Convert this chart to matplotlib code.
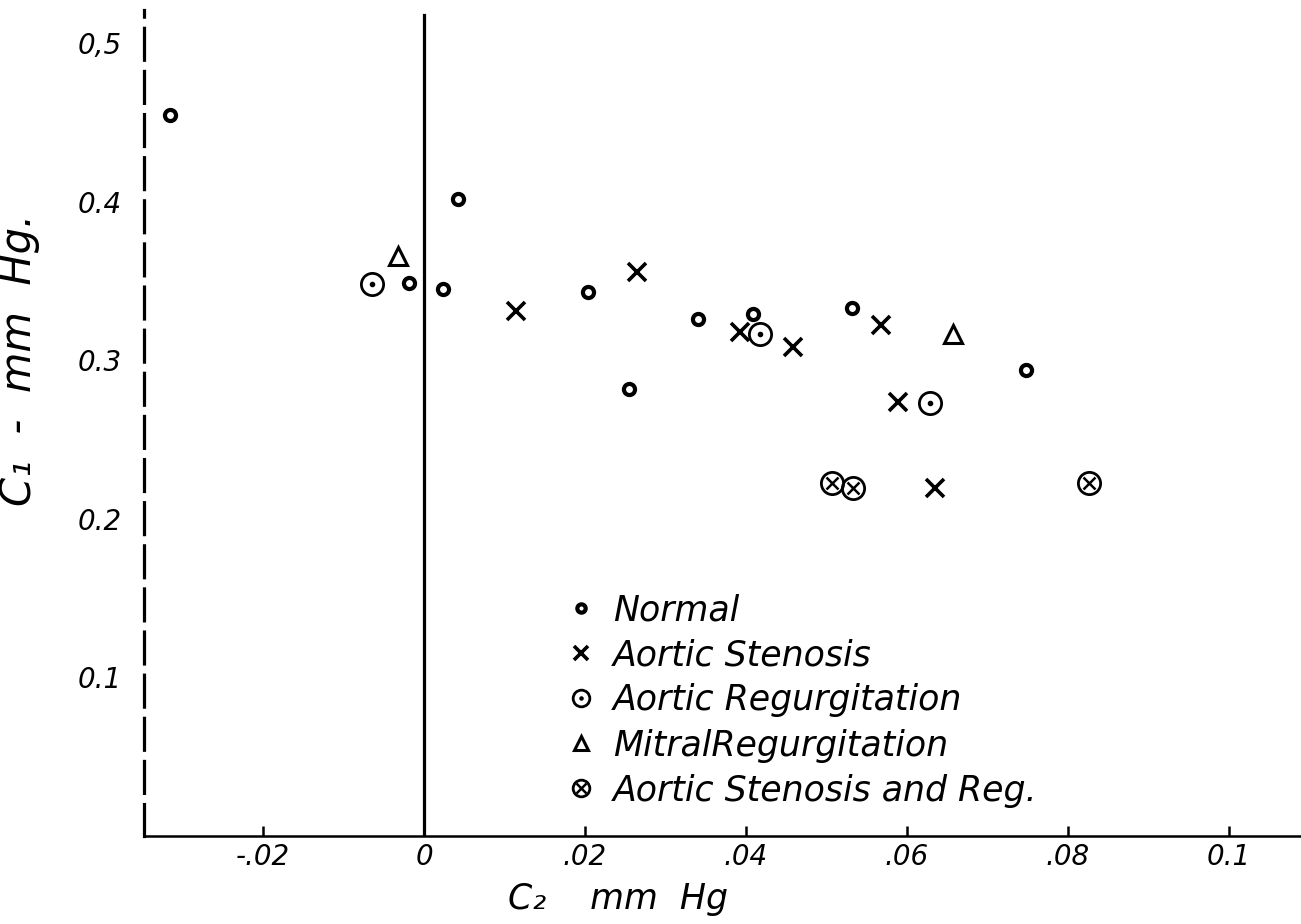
import matplotlib
matplotlib.use("Agg")
import matplotlib.pyplot as plt
from matplotlib.legend_handler import HandlerTuple
import numpy as np

# values (C2 on x, C1 on y, mm Hg)
normal_x = [-0.0316, 0.0042, -0.0019, 0.0024, 0.0204, 0.0340, 0.0409, 0.0532, 0.0255, 0.0748]
normal_y = [0.455, 0.402, 0.349, 0.345, 0.343, 0.326, 0.329, 0.333, 0.282, 0.294]

stenosis_x = [0.0114, 0.0265, 0.0393, 0.0458, 0.0568, 0.0589, 0.0635]
stenosis_y = [0.331, 0.356, 0.318, 0.3085, 0.322, 0.274, 0.2196]

regurg_x = [-0.0065, 0.0417, 0.0629]
regurg_y = [0.348, 0.3167, 0.273]

mitral_x = [-0.0032, 0.0658]
mitral_y = [0.366, 0.3167]

both_x = [0.0507, 0.0533, 0.0826]
both_y = [0.2227, 0.2196, 0.2227]

xticks = [-0.02, 0, 0.02, 0.04, 0.06, 0.08, 0.1]
xtick_labels = ["-.02", "0", ".02", ".04", ".06", ".08", "0.1"]
yticks = [0.1, 0.2, 0.3, 0.4, 0.5]
ytick_labels = ["0.1", "0.2", "0.3", "0.4", "0,5"]

plt.rcParams['font.family'] = ['DejaVu Sans']
plt.rcParams['font.style'] = 'italic'

fig = plt.figure(figsize=(13.01, 9.24), dpi=100)
ax = fig.add_axes([0.1107, 0.0952, 0.8893, 0.894])

h_norm, = ax.plot(normal_x, normal_y, 'o', ms=8, mfc='white', mec='black', mew=3)
h_sten, = ax.plot(stenosis_x, stenosis_y, 'x', ms=13, mec='black', mew=2.6)
# ring with a dot in the middle
h_reg1, = ax.plot(regurg_x, regurg_y, 'o', ms=16, mfc='none', mec='black', mew=2)
h_reg2, = ax.plot(regurg_x, regurg_y, 'o', ms=3, color='black')
h_mit, = ax.plot(mitral_x, mitral_y, '^', ms=13, mfc='none', mec='black', mew=2.2)
# ring with a cross inside
h_both1, = ax.plot(both_x, both_y, 'o', ms=16, mfc='none', mec='black', mew=2)
h_both2, = ax.plot(both_x, both_y, 'x', ms=9, mec='black', mew=1.8)

# zero line
ax.plot([0, 0], [0, 0.518], color='black', lw=2.3)

ax.set_xlim(-0.0348, 0.109)
ax.set_ylim(0, 0.521)

for side in ['top', 'right']:
    ax.spines[side].set_visible(False)
ax.spines['left'].set_linestyle((0, (10, 3.5)))
ax.spines['left'].set_linewidth(2.3)
ax.spines['bottom'].set_linewidth(1.8)

ax.set_xticks(xticks)
ax.set_xticklabels(xtick_labels, fontsize=20)
ax.tick_params(axis='x', direction='in', length=7, width=1.8, pad=5)
ax.set_yticks(yticks)
ax.set_yticklabels(ytick_labels, fontsize=20)
ax.tick_params(axis='y', length=0, pad=16)

ax.set_xlabel("C\u2082    mm  Hg", fontsize=25)
ax.xaxis.set_label_coords(0.41, -0.056)
ax.set_ylabel("C\u2081  -  mm  Hg.", fontsize=30)
ax.yaxis.set_label_coords(-0.09, 0.576)

handles = [h_norm, h_sten, (h_reg1, h_reg2), h_mit, (h_both1, h_both2)]
labels = ["Normal", "Aortic Stenosis", "Aortic Regurgitation",
          "MitralRegurgitation", "Aortic Stenosis and Reg."]
ax.legend(handles, labels, loc='upper left', bbox_to_anchor=(0.348, 0.315), frameon=False,
          prop={'style': 'italic', 'size': 25}, handlelength=1.0,
          handletextpad=0.4, labelspacing=0.32, borderpad=0, markerscale=0.75,
          handler_map={tuple: HandlerTuple(ndivide=1, pad=0)})

fig.savefig("out.png", dpi=100)
